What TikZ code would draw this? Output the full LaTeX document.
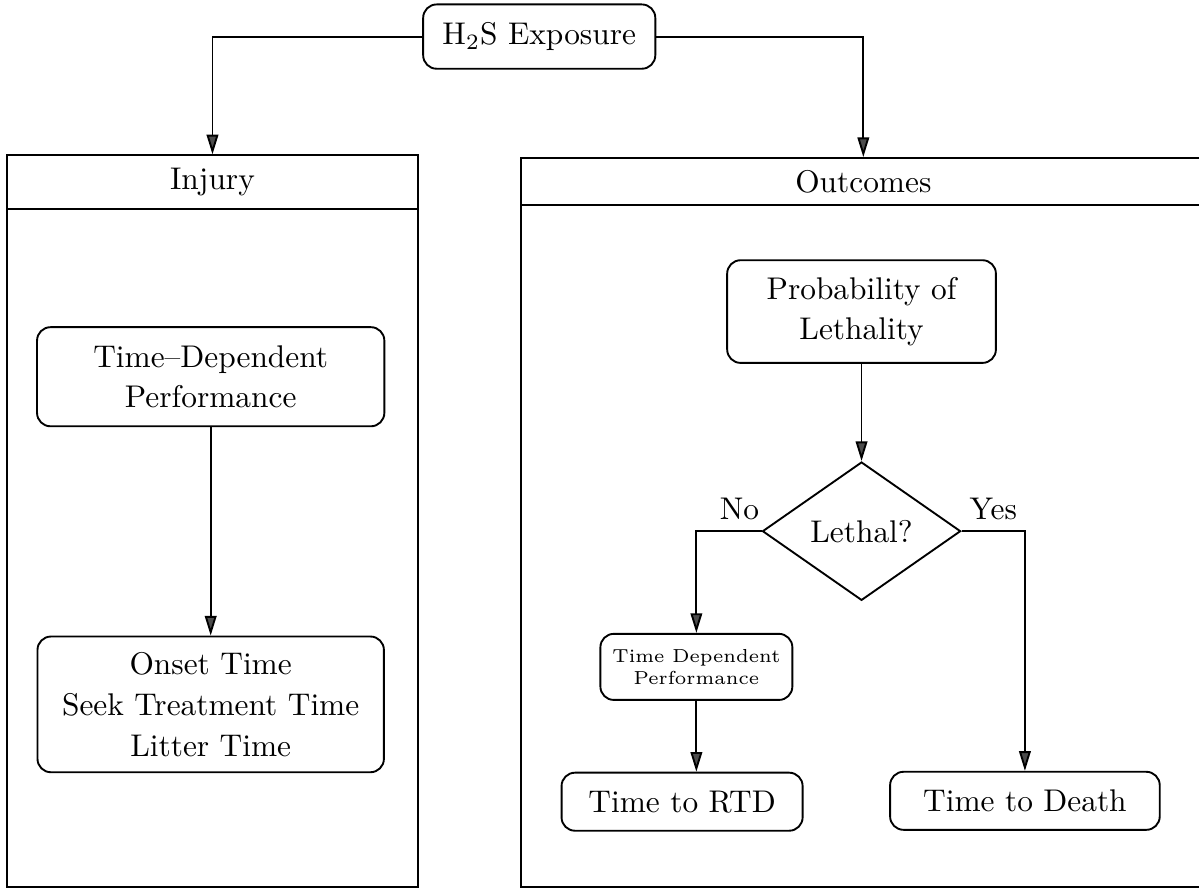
\documentclass[tikz,border=0pt]{standalone}
\usetikzlibrary{arrows.meta,shapes.geometric}
\begin{document}
\begin{tikzpicture}[>={Triangle[length=2.2mm,width=1.3mm,fill=black!70]},
    line width=0.6pt,
    box/.style={draw, rounded corners=1.5mm, align=center, inner sep=2pt,
        font=\fontsize{10}{13}\selectfont},
    head/.style={draw, inner sep=0pt}]
    \fill[white] (0,0) rectangle (13.43,9.97);
    \useasboundingbox (0,0) rectangle (13.43,9.97);
    % exposure
    \node[box, minimum width=2.6cm, minimum height=0.72cm] (exposure) at (6.04,9.56) {H$_2$S Exposure};
    % injury
    \begin{scope}
        \node[head, minimum width=4.6cm, minimum height=0.6cm] (injury) at (2.38,7.93) {Injury};
        \node[head, minimum width=4.6cm, minimum height=7.6cm] (injurybody) at (2.38,3.83) {};
        \node[box, minimum width=3.89cm, minimum height=1.11cm] (tdp) at (2.36,5.75) {Time--Dependent\\Performance};
        \node[box, minimum width=3.88cm, minimum height=1.52cm] (onset) at (2.36,2.08) {Onset Time\\Seek Treatment Time\\Litter Time};
        \draw[->] (tdp) -- (onset);
    \end{scope}
    % outcomes
    \begin{scope}
        \node[head, minimum width=7.66cm, minimum height=0.53cm] (outcomes) at (9.67,7.935) {Outcomes};
        \node[head, minimum width=7.66cm, minimum height=7.64cm] (outcomesbody) at (9.67,3.85) {};
        \node[box, minimum width=3.01cm, minimum height=1.15cm] (prob) at (9.65,6.48) {Probability of\\Lethality};
        \node[draw, diamond, aspect=1.43, inner sep=0pt, minimum width=2.22cm, minimum height=1.55cm] (lethal) at (9.65,4.02) {Lethal?};
        \node[box, font=\fontsize{6}{7}\selectfont, minimum width=2.15cm, minimum height=0.74cm] (perf) at (7.80,2.50) {Time Dependent\\Performance};
        \node[box, minimum width=2.70cm, minimum height=0.65cm] (rtd) at (7.64,0.99) {Time to RTD};
        \node[box, minimum width=3.02cm, minimum height=0.65cm] (death) at (11.48,1.00) {Time to Death};
        \draw[->] (prob) -- (lethal);
        \draw[->] (lethal.west) -| node[above, pos=0.17] {No} (perf.north);
        \draw[->] (lethal.east) -| node[above, pos=0.25] {Yes} (death.north);
        \draw[->] (perf.south) -- (perf.south |- rtd.north);
    \end{scope}
    % exposure arrows
    \draw[->] (exposure.west) -| (injury.north);
    \draw[->] (exposure.east) -| (outcomes.north);
\end{tikzpicture}
\end{document}
